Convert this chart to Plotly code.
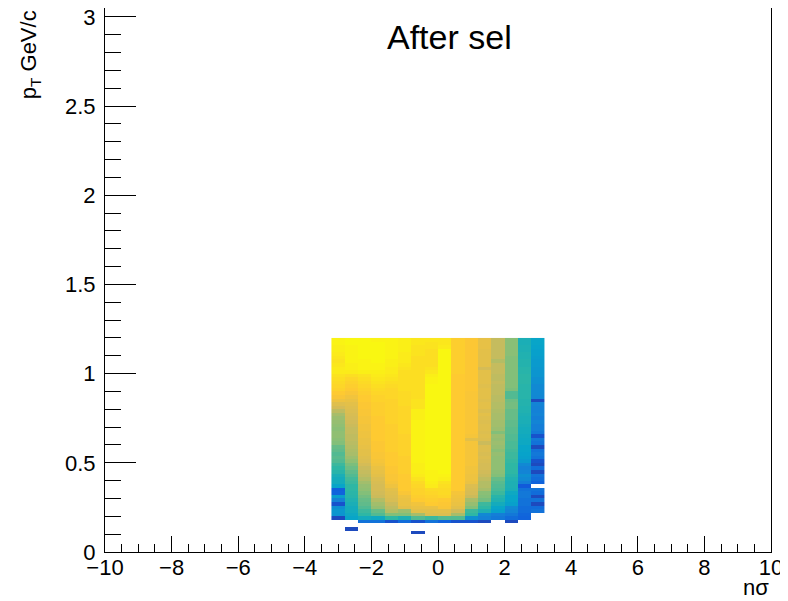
import plotly.graph_objects as go

# ---- data -----------------------------------------------------------------
# 16 n-sigma bins of width 0.4 from -3.2 to 3.2 ; pT bins of width 0.02 from 0
nsig_centers = [-3.0 + 0.4 * i for i in range(16)]
pt_bin_width = 0.02
n_pt_bins = 60
# each column: first filled pT-bin index and colour level (0..100 of palette)
col_start = [9, 6, 8, 8, 8, 8, 5, 8, 8, 8, 8, 8, 9, 8, 9, 11]
col_m30 = [8, 32, 33, 30, 10, 25, 35, 15, 14, 38, 42, 42, 44, 48, 50, 52,
           55, 56, 55, 57, 58, 62, 63, 64, 64, 63, 64, 65, 66, 68, 72, 76, 79,
           83, 86, 88, 90, 91, 92, 93, 94, 96, 96, 95, 94, 95, 96, 97, 97, 98, 98]
col_m26 = [8, None, None, 38, 40, 42, 42, 44, 46, 48, 49, 50, 50, 52, 53, 55, 57, 59, 61,
           64, 66, 68, 69, 70, 71, 72, 72, 73, 73, 74, 75, 76, 77, 78,
           79, 80, 82, 84, 86, 88, 89, 90, 91, 93, 96, 97, 97, 98, 98, 98, 98, 98, 99, 99]
col_m22 = [20, 42, 50, 52, 55, 57, 58, 60, 62, 64, 65, 67, 70, 72, 73, 74, 76,
           78, 79, 80, 80, 81, 82, 82, 83, 83, 84, 84, 85, 85, 86, 86,
           87, 87, 88, 88, 89, 90, 91, 92, 93, 94, 97, 98, 98, 98, 99, 99, 99, 99, 99, 99]
col_m18 = [20, 40, 55, 58, 65, 67, 70, 74, 75, 76, 76, 77, 78, 80, 81, 82, 84,
           85, 86, 86, 87, 87, 87, 88, 88, 88, 88, 88, 88, 88, 89, 89,
           89, 89, 90, 90, 91, 92, 93, 94, 95, 96, 97, 98, 98, 99, 99, 99, 99, 99, 99, 98]
col_m14 = [10, 50, 62, 70, 72, 74, 77, 78, 79, 80, 83, 85, 86, 86, 87, 87, 88,
           88, 88, 88, 89, 89, 89, 89, 89, 89, 89, 89, 90, 90, 90, 90,
           90, 90, 90, 91, 91, 91, 92, 93, 94, 95, 96, 96, 97, 97, 98, 98, 98, 98, 98, 98]
col_m10 = [18, 45, 62, 66, 80, 82, 82, 83, 86, 88, 88, 88, 88, 88, 89, 89, 89,
           89, 89, 90, 90, 90, 90, 90, 90, 91, 91, 91, 91, 91, 91, 91,
           91, 92, 92, 92, 92, 93, 93, 93, 93, 93, 93, 94, 95, 96, 96, 96, 97, 97, 97, 97]
col_m06 = [8, None, None, 10, 55, 68, 80, 82, 84, 88, 89, 90, 90, 91, 92, 94, 96, 97, 97, 97,
           98, 98, 98, 98, 98, 98, 98, 98, 98, 98, 98, 98, 97, 97, 97,
           94, 94, 94, 93, 93, 93, 93, 93, 93, 93, 93, 93, 93, 93, 93, 94, 94, 94, 95, 95]
col_m02 = [20, 52, 78, 80, 82, 88, 89, 90, 91, 92, 96, 97, 98, 98, 98, 99, 99,
           99, 99, 99, 99, 99, 99, 99, 99, 99, 99, 99, 99, 99, 99, 99,
           99, 99, 99, 99, 99, 99, 99, 98, 98, 97, 95, 94, 93, 93, 93, 93, 93, 94, 94, 95]
col_p02 = [15, 55, 78, 80, 86, 87, 88, 91, 92, 92, 93, 94, 97, 98, 99, 99, 99,
           99, 99, 99, 99, 99, 99, 99, 99, 99, 99, 99, 99, 99, 99, 99,
           99, 99, 99, 99, 99, 99, 99, 99, 99, 99, 99, 99, 99, 99, 99, 99, 99, 96, 95, 95]
col_p06 = [10, 55, 68, 75, 80, 82, 83, 84, 85, 88, 88, 88, 88, 88, 88, 88, 88,
           88, 88, 88, 88, 88, 88, 88, 88, 88, 88, 88, 88, 88, 88, 88,
           88, 88, 88, 88, 88, 88, 88, 88, 88, 88, 89, 89, 89, 89, 89, 89, 89, 89, 89, 89]
col_p10 = [10, 30, 50, 52, 62, 65, 68, 74, 76, 77, 78, 82, 83, 83, 84, 84, 85,
           85, 85, 85, 85, 85, 85, 80, 85, 86, 86, 86, 86, 86, 86, 86,
           86, 86, 86, 86, 86, 87, 87, 87, 87, 87, 87, 87, 87, 87, 87, 87, 87, 87, 87, 87]
col_p14 = [8, 25, 28, 45, 50, 52, 60, 62, 63, 68, 70, 70, 72, 74, 75, 76, 76,
           77, 78, 77, 78, 78, 74, 78, 79, 78, 79, 79, 78, 79, 80, 78,
           80, 80, 79, 80, 80, 80, 79, 80, 80, 80, 80, 76, 80, 80, 80, 80, 80, 81, 81, 81]
col_p18 = [22, 24, 36, 38, 42, 46, 48, 52, 54, 55, 56, 58, 62, 63, 64, 64,
           64, 64, 65, 63, 65, 66, 65, 66, 62, 66, 67, 67, 68, 68, 69, 70,
           70, 71, 71, 72, 72, 72, 73, 72, 72, 73, 73, 73, 70, 73, 73, 73, 73, 73, 73]
col_p22 = [8, 18, 22, 26, 28, 36, 38, 38, 40, 44, 45, 45, 46, 48, 50, 50, 50,
           51, 52, 52, 53, 54, 54, 55, 55, 56, 56, 57, 57, 58, 58, 58,
           60, 60, 59, 55, 55, 61, 62, 62, 62, 62, 62, 62, 62, 62, 62, 63, 63, 63, 63, 63]
col_p26 = [15, 16, 18, 18, 20, 20, 22, 22, 20, 12, 24, 28, 30, 26, 25, 28,
           34, 36, 37, 38, 38, 40, 40, 41, 42, 42, 43, 44, 44, 45, 46,
           46, 47, 47, 48, 48, 48, 48, 49, 49, 49, 48, 48, 47, 47, 46, 46, 45, 45, 44, 44]
col_p30 = [20, 18, 8, 20, 8, 18, 20, None, 15, 18, 20, 8, 18, 8,
           10, 20, 22, 20, 8, 20, 22, 10, 22, 24, 24, 26, 24, 26, 25,
           25, 26, 8, 27, 28, 28, 28, 30, 30, 32, 32, 33, 34, 34, 35, 36, 36, 37, 38, 38]

columns = [col_m30, col_m26, col_m22, col_m18, col_m14, col_m10, col_m06, col_m02,
           col_p02, col_p06, col_p10, col_p14, col_p18, col_p22, col_p26, col_p30]

x_ticks = [-10, -8, -6, -4, -2, 0, 2, 4, 6, 8, 10]
y_ticks = [0, 0.5, 1, 1.5, 2, 2.5, 3]

# ---- build matrix -----------------------------------------------------------
z = [[None] * len(columns) for _ in range(n_pt_bins)]
for c, vals in enumerate(columns):
    for k, v in enumerate(vals):
        r = col_start[c] + k
        if r < n_pt_bins:
            z[r][c] = v
pt_centers = [pt_bin_width * (r + 0.5) for r in range(n_pt_bins)]

bird = [
    [0.000, "rgb(53,42,135)"],
    [0.125, "rgb(15,92,221)"],
    [0.250, "rgb(20,129,214)"],
    [0.375, "rgb(6,164,202)"],
    [0.500, "rgb(46,183,164)"],
    [0.625, "rgb(135,191,119)"],
    [0.750, "rgb(209,187,89)"],
    [0.875, "rgb(254,200,50)"],
    [1.000, "rgb(249,251,14)"],
]

fig = go.Figure(go.Heatmap(
    x=nsig_centers, y=pt_centers, z=z, colorscale=bird, zmin=0, zmax=100,
    showscale=False, zsmooth=False, hoverinfo="skip", xgap=0, ygap=0,
))

font = "Liberation Sans, Arial, Helvetica, sans-serif"
# the page body adds an 8 px margin, so the figure is drawn 8 px smaller
fig.update_layout(
    width=780, height=593,
    margin=dict(l=97, r=17, t=0, b=49, autoexpand=False),
    paper_bgcolor="white", plot_bgcolor="white",
    font=dict(family=font, size=22, color="black"),
    showlegend=False,
)
fig.update_xaxes(
    range=[-10, 10], tickvals=x_ticks, ticks="inside", ticklen=16, tickwidth=1,
    tickcolor="black", showgrid=False, zeroline=False, showline=True,
    linecolor="black", linewidth=1, mirror=True, ticklabelstandoff=-4,
    ticklabeloverflow="allow",
    minor=dict(dtick=0.5, ticks="inside", ticklen=8, tickcolor="black", showgrid=False),
    tickfont=dict(size=22),
)
fig.update_yaxes(
    range=[0, 3.05], tickvals=y_ticks, ticks="inside", ticklen=31, tickwidth=1,
    tickcolor="black", showgrid=False, zeroline=False, showline=True,
    linecolor="black", linewidth=1, mirror=True, ticklabelstandoff=4,
    ticklabeloverflow="allow",
    minor=dict(dtick=0.1, ticks="inside", ticklen=16, tickcolor="black", showgrid=False),
    tickfont=dict(size=22),
)
fig.add_annotation(text="After sel", xref="paper", yref="paper", x=0.518, y=0.946,
                   showarrow=False, font=dict(size=34, family=font), xanchor="center", yanchor="middle")
fig.add_annotation(text="nσ", xref="paper", yref="paper", x=1.0, y=-0.066,
                   showarrow=False, font=dict(size=22, family=font), xanchor="right", yanchor="middle")
fig.add_annotation(text="p<sub>T</sub> GeV/c", xref="paper", yref="paper", x=-0.113, y=1.0,
                   showarrow=False, textangle=-90, font=dict(size=22, family=font),
                   xanchor="center", yanchor="top")

fig.write_html("out.html")
